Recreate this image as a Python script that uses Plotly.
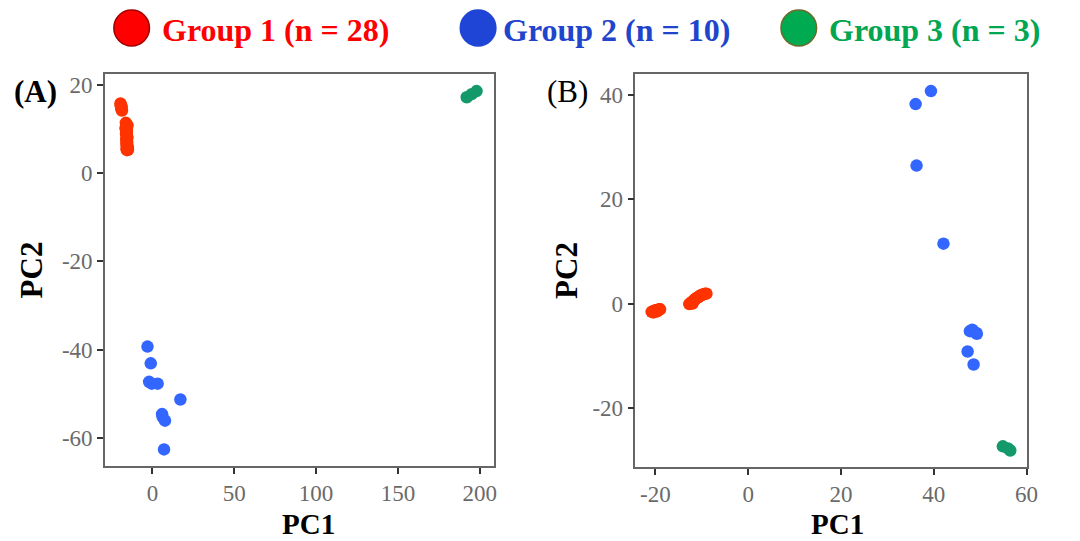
import plotly.graph_objects as go

# ---------------- data ----------------
groups = ["Group 1 (n = 28)", "Group 2 (n = 10)", "Group 3 (n = 3)"]

# Panel A
a_g1_x = [-19.5, -19.2, -18.8, -19.0, -18.6, -19.3, -16.2, -16.0, -15.8, -16.4, -15.9, -15.6, -16.1, -15.7,
          -15.5, -16.0, -15.8, -15.4, -15.9, -15.6, -15.3, -15.8, -15.5, -15.2, -15.6, -15.0, -15.3, -14.9]
a_g1_y = [15.8, 15.4, 15.0, 14.6, 14.2, 15.2, 11.4, 11.0, 10.6, 10.2, 9.8, 9.4, 9.0, 8.6,
          8.2, 7.8, 7.4, 7.0, 6.6, 6.2, 5.8, 5.5, 5.2, 10.8, 9.6, 6.0, 8.0, 5.3]
a_g2_x = [-3.0, -1.0, -2.0, -0.4, 3.2, 17.1, 5.9, 6.2, 7.7, 7.1]
a_g2_y = [-39.3, -43.1, -47.3, -47.7, -47.7, -51.3, -54.6, -55.2, -56.1, -62.6]
a_g3_x = [192.0, 195.0, 198.0]
a_g3_y = [17.2, 17.9, 18.6]

# Panel B
b_g1_x = [-20.8, -20.6, -20.3, -20.1, -19.9, -19.7, -19.5, -19.3, -19.1, -19.0, -20.4, -19.6,
          -12.7, -12.4, -12.1, -11.8, -11.6, -11.4, -11.2, -11.0, -10.8, -10.5, -10.2, -9.9, -9.6, -9.3, -9.0, -12.0]
b_g1_y = [-1.6, -1.5, -1.4, -1.4, -1.3, -1.3, -1.2, -1.2, -1.1, -1.1, -1.7, -1.5,
          -0.1, 0.1, 0.3, 0.5, 0.7, 0.9, 1.0, 1.1, 1.2, 1.4, 1.6, 1.7, 1.8, 1.9, 1.9, 0.0]
b_g2_x = [39.4, 36.1, 36.3, 42.1, 47.8, 48.3, 49.1, 49.3, 47.3, 48.6]
b_g2_y = [40.8, 38.3, 26.5, 11.5, -5.3, -5.0, -5.6, -5.8, -9.2, -11.7]
b_g3_x = [54.9, 56.0, 56.5]
b_g3_y = [-27.4, -27.8, -28.2]

a_xticks = [0, 50, 100, 150, 200]
a_yticks = [20, 0, -20, -40, -60]
b_xticks = [-20, 0, 20, 40, 60]
b_yticks = [40, 20, 0, -20]

x_title = "PC1"
y_title = "PC2"

point_colors = ["#FF3300", "#3366FF", "#13996A"]
legend_fill = ["#FF0000", "#1F45D6", "#00AA50"]
legend_line = ["#A00000", "#1F45D6", "#6B6B2A"]
legend_text = ["#FF0000", "#1F45CC", "#00A651"]

SERIF = "Liberation Serif"
W, H = 1080, 541

fig = go.Figure()

panelA = [(a_g1_x, a_g1_y), (a_g2_x, a_g2_y), (a_g3_x, a_g3_y)]
panelB = [(b_g1_x, b_g1_y), (b_g2_x, b_g2_y), (b_g3_x, b_g3_y)]
for i, (xs, ys) in enumerate(panelA):
    fig.add_trace(go.Scatter(x=xs, y=ys, mode="markers", name=groups[i], showlegend=False,
                             marker=dict(color=point_colors[i], size=12.5, line=dict(width=0)),
                             xaxis="x", yaxis="y"))
for i, (xs, ys) in enumerate(panelB):
    fig.add_trace(go.Scatter(x=xs, y=ys, mode="markers", name=groups[i], showlegend=False,
                             marker=dict(color=point_colors[i], size=12.5, line=dict(width=0)),
                             xaxis="x2", yaxis="y2"))


def fmt(v):
    return str(v)  # ascii hyphen minus like the reference


axis_common = dict(
    showgrid=False, zeroline=False, showline=True, mirror=True,
    linecolor="#666666", linewidth=1.5,
    ticks="outside", ticklen=6, tickwidth=1.5, tickcolor="#333333",
    tickfont=dict(family=SERIF, size=23, color="#6A6A6A"),
    title_font=dict(family=SERIF, size=31, color="black"),
)

fig.update_layout(
    width=W, height=H,
    margin=dict(l=0, r=0, t=0, b=0),
    paper_bgcolor="white", plot_bgcolor="white",
    showlegend=False,
    xaxis=dict(domain=[106 / W, 499 / W], range=[-29, 208.6], tickmode="array",
               tickvals=a_xticks, ticktext=[fmt(v) for v in a_xticks],
               anchor="y", **axis_common),
    yaxis=dict(domain=[1 - 466 / H, 1 - 73 / H], range=[-66.4, 22.5], tickmode="array",
               tickvals=a_yticks, ticktext=[fmt(v) for v in a_yticks],
               title=dict(text="<b>" + y_title + "</b>", standoff=10), anchor="x", **axis_common),
    xaxis2=dict(domain=[642 / W, 1038 / W], range=[-24.3, 60.2], tickmode="array",
                tickvals=b_xticks, ticktext=[fmt(v) for v in b_xticks],
                anchor="y2", **axis_common),
    yaxis2=dict(domain=[1 - 467 / H, 1 - 73 / H], range=[-31.4, 44.1], tickmode="array",
                tickvals=b_yticks, ticktext=[fmt(v) for v in b_yticks],
                title=dict(text="<b>" + y_title + "</b>", standoff=6), anchor="x2", **axis_common),
)

# x-axis titles placed at the bottom edge
for cx in (312, 846):
    fig.add_annotation(text="<b>" + x_title + "</b>", x=cx / W, y=0, xref="paper", yref="paper",
                       xanchor="center", yanchor="bottom", showarrow=False, borderpad=0,
                       font=dict(family=SERIF, size=29, color="black"))

# Panel labels
fig.add_annotation(text="<b>(A)</b>", x=12 / W, y=1 - 91 / H, xref="paper", yref="paper",
                   xanchor="left", yanchor="middle", showarrow=False,
                   font=dict(family=SERIF, size=31, color="black"))
fig.add_annotation(text="(B)", x=551 / W, y=1 - 91 / H, xref="paper", yref="paper",
                   xanchor="left", yanchor="middle", showarrow=False,
                   font=dict(family=SERIF, size=31, color="black"))

# Top legend (large circles + coloured text)
circle_cx = [133, 483, 807]
text_x = [162, 506, 836]
for i in range(3):
    cx = circle_cx[i]
    fig.add_shape(type="circle", xref="paper", yref="paper",
                  x0=(cx - 18) / W, x1=(cx + 18) / W, y0=1 - 45 / H, y1=1 - 9 / H,
                  fillcolor=legend_fill[i], line=dict(color=legend_line[i], width=1.5))
    fig.add_annotation(text="<b>" + groups[i] + "</b>", x=text_x[i] / W, y=1 - 29 / H,
                       xref="paper", yref="paper", xanchor="left", yanchor="middle",
                       showarrow=False, font=dict(family=SERIF, size=32, color=legend_text[i]))

fig.write_html("out.html")
